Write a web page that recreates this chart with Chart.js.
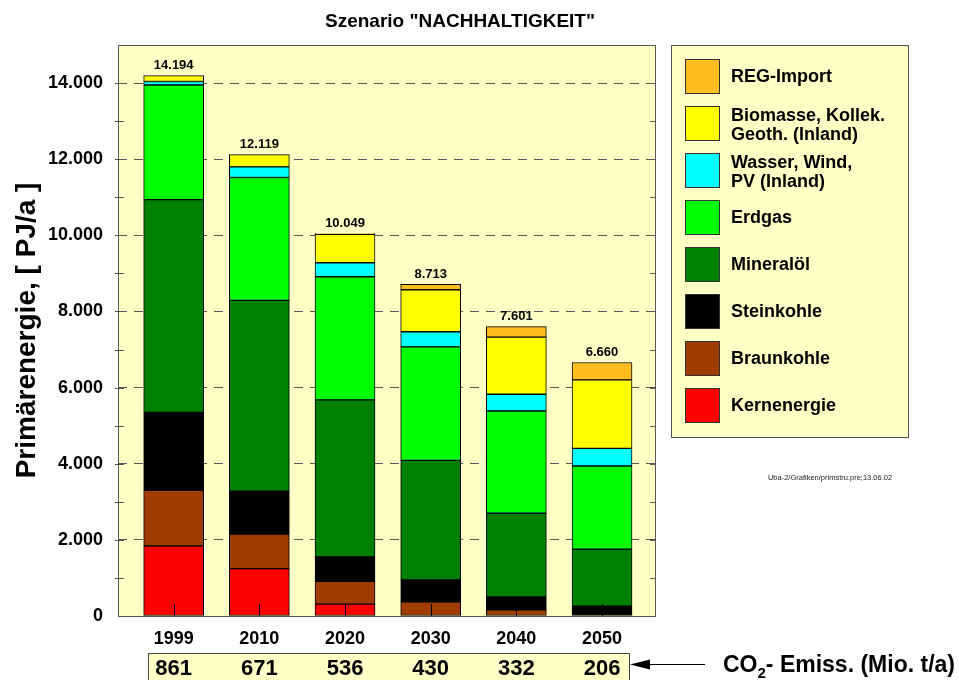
<!DOCTYPE html>
<html lang="de">
<head>
<meta charset="utf-8">
<title>Szenario NACHHALTIGKEIT</title>
<script src="https://cdn.jsdelivr.net/npm/chart.js@4.4.1/dist/chart.umd.min.js"></script>
<style>
  html, body { margin: 0; padding: 0; background: #fff; }
  #wrap { width: 959px; height: 680px; }
</style>
</head>
<body>
<div id="wrap"><canvas id="chart" width="959" height="680"></canvas></div>
<script>
// Daten (PJ/a)

let years = ["1999", "2010", "2020", "2030", "2040", "2050"];
let kernenergie = [1840, 1245, 310, 0, 0, 0];
let braunkohle = [1460, 905, 600, 370, 160, 0];
let steinkohle = [2050, 1130, 643, 580, 340, 260];
let mineraloel = [5590, 5010, 4123, 3137, 2200, 1494];
let erdgas = [3010, 3230, 3237, 2983, 2686, 2186];
let wasserWindPV = [90, 280, 367, 396, 439, 463];
let biomasse = [154, 319, 746, 1104, 1500, 1800];
let regImport = [0, 0, 23, 143, 276, 457];
let totals = [14194, 12119, 10049, 8713, 7601, 6660];
let co2Emissions = [861, 671, 536, 430, 332, 206];

// Reihen von unten nach oben

let seriesNames = ["Kernenergie", "Braunkohle", "Steinkohle", "Mineralöl", "Erdgas",
  "Wasser, Wind, PV (Inland)", "Biomasse, Kollek. Geoth. (Inland)", "REG-Import"];
let legendLines = [["Kernenergie"], ["Braunkohle"], ["Steinkohle"], ["Mineralöl"], ["Erdgas"],
  ["Wasser, Wind,", "PV (Inland)"], ["Biomasse, Kollek.", "Geoth. (Inland)"], ["REG-Import"]];
let seriesValues = [kernenergie, braunkohle, steinkohle, mineraloel, erdgas, wasserWindPV, biomasse, regImport];
let seriesColors = ["#FF0000", "#A03C00", "#000000", "#008000", "#00FF00", "#00FFFF", "#FFFF00", "#FFBE1E"];

const FONT = '"Liberation Sans", Arial, sans-serif';
const PLOT_BG = "#FFFFC6";

Chart.defaults.font.family = FONT;

function fmt(n) {
  return String(n).replace(/\B(?=(\d{3})+(?!\d))/g, ".");
}

let datasets = seriesNames.map((name, s) => ({
  label: name,
  data: seriesValues[s].map((v, i) => ({ x: i, y: v })),
  backgroundColor: seriesColors[s],
  borderColor: "#000",
  borderWidth: 1,
  borderSkipped: false,
  barThickness: 60,
}));

// Zusatzelemente: Hintergrund, Rahmen, Summen, Legende, CO2-Zeile

let extras = {
  id: "extras",
  beforeDraw(chart) {
    let { ctx, chartArea: a } = chart;
    ctx.save();
    ctx.fillStyle = PLOT_BG;
    ctx.fillRect(a.left, a.top, a.right - a.left, a.bottom - a.top);
    ctx.restore();
  },
  afterDatasetsDraw(chart) {
    let { ctx, chartArea: a, scales } = chart;
    let xs = scales.x;
    let ys = scales.y;
    ctx.save();

    // Rahmen
    ctx.strokeStyle = "#555";
    ctx.lineWidth = 1;
    ctx.strokeRect(a.left + 0.5, a.top + 0.5, a.right - a.left - 1, a.bottom - a.top);

    // kleine Striche an der y-Achse
    ctx.beginPath();
    for (let v = 1000; v <= 14000; v += 1000) {
      let y = Math.round(ys.getPixelForValue(v)) + 0.5;
      ctx.moveTo(a.left - 3, y);
      ctx.lineTo(a.left + 6, y);
      ctx.moveTo(a.right - 6, y);
      ctx.lineTo(a.right, y);
    }
    ctx.stroke();

    // Striche an der x-Achse
    ctx.strokeStyle = "#000";
    ctx.beginPath();
    years.forEach((_, i) => {
      let x = Math.round(xs.getPixelForValue(i)) + 0.5;
      ctx.moveTo(x, a.bottom);
      ctx.lineTo(x, a.bottom - 12);
    });
    ctx.stroke();

    // Summen über den Säulen
    ctx.fillStyle = "#000";
    ctx.font = "bold 13px " + FONT;
    ctx.textAlign = "center";
    ctx.textBaseline = "middle";
    totals.forEach((t, i) => {
      ctx.fillText(fmt(t), xs.getPixelForValue(i), ys.getPixelForValue(t) - 10);
    });
    ctx.restore();
  },
  afterDraw(chart) {
    let { ctx, scales } = chart;
    let xs = scales.x;
    ctx.save();

    // Titel
    ctx.fillStyle = "#000";
    ctx.font = "bold 19px " + FONT;
    ctx.textAlign = "center";
    ctx.textBaseline = "middle";
    ctx.fillText('Szenario "NACHHALTIGKEIT"', 460, 22);

    // Legende
    ctx.fillStyle = PLOT_BG;
    ctx.fillRect(671, 45, 237, 392);
    ctx.strokeStyle = "#555";
    ctx.strokeRect(671.5, 45.5, 237, 392);
    ctx.font = "bold 18px " + FONT;
    ctx.textAlign = "left";
    for (let r = 0; r < seriesNames.length; r++) {
      let s = seriesNames.length - 1 - r;
      let top = 59 + r * 47;
      ctx.fillStyle = seriesColors[s];
      ctx.fillRect(685, top, 34, 34);
      ctx.strokeStyle = "#333";
      ctx.strokeRect(685.5, top + 0.5, 34, 34);
      ctx.fillStyle = "#000";
      let lines = legendLines[s];
      let cy = top + 17;
      if (lines.length === 1) {
        ctx.fillText(lines[0], 731, cy + 1.5);
      } else {
        ctx.fillText(lines[0], 731, cy + 2.5 - 9.25);
        ctx.fillText(lines[1], 731, cy + 2.5 + 9.25);
      }
    }

    // Quellvermerk
    ctx.fillStyle = "#222";
    ctx.font = "7.5px " + FONT;
    ctx.textAlign = "center";
    ctx.fillText("Uba-2/Grafiken/primstru.pre;13.06.02", 830, 478);

    // CO2-Zeile
    let left = Math.round(xs.getPixelForValue(0)) - 26;
    let right = Math.round(xs.getPixelForValue(years.length - 1)) + 27;
    ctx.fillStyle = PLOT_BG;
    ctx.fillRect(left, 653, right - left, 40);
    ctx.strokeStyle = "#444";
    ctx.strokeRect(left + 0.5, 653.5, right - left, 40);
    ctx.fillStyle = "#000";
    ctx.font = "bold 22px " + FONT;
    co2Emissions.forEach((v, i) => {
      ctx.fillText(String(v), xs.getPixelForValue(i), 669);
    });

    // Pfeil
    ctx.strokeStyle = "#000";
    ctx.lineWidth = 1;
    ctx.beginPath();
    ctx.moveTo(648, 664.5);
    ctx.lineTo(705, 664.5);
    ctx.stroke();
    ctx.beginPath();
    ctx.moveTo(630, 664.5);
    ctx.lineTo(650, 659.5);
    ctx.lineTo(650, 669.5);
    ctx.closePath();
    ctx.fill();

    // CO2-Beschriftung
    ctx.textAlign = "left";
    ctx.textBaseline = "alphabetic";
    ctx.font = "bold 23px " + FONT;
    let x = 723;
    ctx.fillText("CO", x, 672);
    x += ctx.measureText("CO").width;
    ctx.font = "bold 15px " + FONT;
    ctx.fillText("2", x, 678);
    x += ctx.measureText("2").width;
    ctx.font = "bold 23px " + FONT;
    ctx.fillText("- Emiss. (Mio. t/a)", x, 672);
    ctx.restore();
  },
};

new Chart(document.getElementById("chart"), {
  type: "bar",
  data: { datasets: datasets },
  options: {
    responsive: false,
    devicePixelRatio: 1,
    animation: false,
    layout: { padding: { left: 0, top: 45, right: 303, bottom: 0 } },
    plugins: {
      legend: { display: false },
      tooltip: { enabled: false },
      title: { display: false },
    },
    scales: {
      x: {
        type: "linear",
        stacked: true,
        offset: false,
        min: -0.65,
        max: 5.63,
        afterBuildTicks: (scale) => {
          scale.ticks = years.map((_, i) => ({ value: i }));
        },
        afterFit: (scale) => {
          scale.height = 64;
        },
        ticks: {
          callback: (v) => years[v],
          autoSkip: false,
          maxRotation: 0,
          padding: 12,
          color: "#000",
          font: { size: 18, weight: "bold" },
        },
        grid: { display: false, drawTicks: false, offset: false },
        border: { display: false },
      },
      y: {
        stacked: true,
        min: 0,
        max: 15000,
        afterFit: (scale) => {
          scale.width = 118;
        },
        ticks: {
          stepSize: 1000,
          autoSkip: false,
          padding: 15,
          color: "#000",
          font: { size: 18, weight: "bold" },
          callback: (v) => (v % 2000 === 0 ? fmt(v) : ""),
        },
        grid: {
          drawTicks: false,
          lineWidth: 1,
          color: (c) => (c.tick && c.tick.value > 0 && c.tick.value % 2000 === 0 ? "#555" : "rgba(0,0,0,0)"),
        },
        border: { display: false, dash: [9, 7] },
        title: {
          display: true,
          text: "Primärenergie, [ PJ/a ]",
          color: "#000",
          font: { size: 28, weight: "bold" },
          padding: { top: 10, bottom: 0 },
        },
      },
    },
  },
  plugins: [extras],
});
</script>
</body>
</html>
